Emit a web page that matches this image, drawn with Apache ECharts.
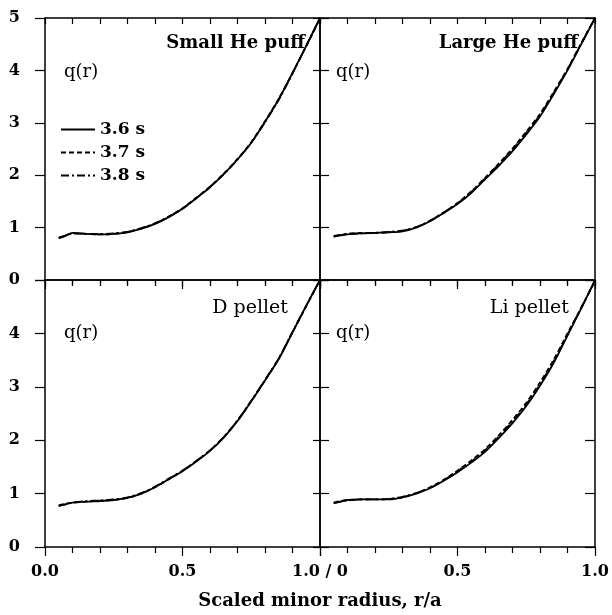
<!DOCTYPE html>
<html>
<head>
<meta charset="utf-8">
<script src="https://cdn.jsdelivr.net/npm/echarts@6/dist/echarts.min.js"></script>
<style>
html, body { margin: 0; padding: 0; background: #fff; }
#main { width: 612px; height: 615px; }
</style>
</head>
<body>
<div id="main"></div>
<script>
// scaled minor radius r/a
var r = [0.05, 0.075, 0.1, 0.15, 0.2, 0.25, 0.3, 0.35, 0.4, 0.45, 0.5, 0.55, 0.6, 0.65, 0.7, 0.75, 0.8, 0.85, 0.9, 0.95, 1.0];

// q(r), one array per panel and time
var smallHe36 = [0.80, 0.85, 0.90, 0.88, 0.87, 0.88, 0.91, 0.98, 1.07, 1.20, 1.36, 1.56, 1.77, 2.02, 2.30, 2.62, 3.02, 3.45, 3.95, 4.47, 5.00];
var smallHe37 = [0.81, 0.85, 0.89, 0.88, 0.87, 0.88, 0.92, 0.98, 1.08, 1.21, 1.37, 1.57, 1.78, 2.03, 2.31, 2.63, 3.03, 3.46, 3.95, 4.46, 4.99];
var smallHe38 = [0.80, 0.84, 0.89, 0.88, 0.88, 0.89, 0.92, 0.99, 1.08, 1.21, 1.36, 1.56, 1.78, 2.02, 2.30, 2.62, 3.01, 3.44, 3.94, 4.47, 5.00];

var largeHe36 = [0.83, 0.85, 0.87, 0.89, 0.90, 0.91, 0.93, 1.00, 1.12, 1.28, 1.45, 1.66, 1.92, 2.18, 2.46, 2.78, 3.12, 3.55, 4.00, 4.50, 5.00];
var largeHe37 = [0.84, 0.86, 0.88, 0.90, 0.90, 0.91, 0.94, 1.01, 1.13, 1.29, 1.47, 1.69, 1.95, 2.22, 2.51, 2.83, 3.17, 3.59, 4.03, 4.52, 5.00];
var largeHe38 = [0.83, 0.86, 0.88, 0.89, 0.90, 0.92, 0.94, 1.01, 1.13, 1.29, 1.46, 1.68, 1.94, 2.21, 2.49, 2.81, 3.15, 3.57, 4.02, 4.51, 5.00];

var dPellet36 = [0.77, 0.80, 0.83, 0.85, 0.86, 0.88, 0.92, 1.00, 1.12, 1.27, 1.42, 1.60, 1.80, 2.05, 2.36, 2.73, 3.12, 3.52, 4.02, 4.52, 5.00];
var dPellet37 = [0.78, 0.81, 0.83, 0.85, 0.87, 0.88, 0.92, 1.00, 1.12, 1.27, 1.43, 1.61, 1.81, 2.06, 2.37, 2.73, 3.12, 3.53, 4.02, 4.51, 5.00];
var dPellet38 = [0.77, 0.80, 0.83, 0.86, 0.87, 0.89, 0.93, 1.01, 1.13, 1.28, 1.43, 1.61, 1.81, 2.06, 2.37, 2.74, 3.13, 3.53, 4.03, 4.52, 5.00];

var liPellet36 = [0.82, 0.85, 0.88, 0.89, 0.89, 0.89, 0.93, 1.00, 1.10, 1.24, 1.40, 1.58, 1.78, 2.04, 2.32, 2.64, 3.02, 3.45, 3.96, 4.47, 5.00];
var liPellet37 = [0.83, 0.86, 0.88, 0.89, 0.89, 0.90, 0.93, 1.01, 1.12, 1.26, 1.43, 1.62, 1.83, 2.09, 2.38, 2.70, 3.08, 3.51, 4.00, 4.48, 4.98];
var liPellet38 = [0.82, 0.85, 0.87, 0.89, 0.89, 0.90, 0.94, 1.01, 1.11, 1.25, 1.42, 1.60, 1.81, 2.07, 2.35, 2.67, 3.05, 3.48, 3.98, 4.48, 4.99];

var times = ['3.6 s', '3.7 s', '3.8 s'];
var panelNames = ['Small He puff', 'Large He puff', 'D pellet', 'Li pellet'];
var panelData = [
    [smallHe36, smallHe37, smallHe38],
    [largeHe36, largeHe37, largeHe38],
    [dPellet36, dPellet37, dPellet38],
    [liPellet36, liPellet37, liPellet38]
];

var app = echarts.init(document.getElementById('main'));
var FONT = 'DejaVu Serif';
var dashes = ['solid', [5, 3], [8, 3, 2, 3]];

var grids = [
    {left: 45, top: 18, width: 275, height: 262},
    {left: 320, top: 18, width: 275, height: 262},
    {left: 45, top: 280, width: 275, height: 267},
    {left: 320, top: 280, width: 275, height: 267}
];

function pairs(ys) {
    return r.map(function (x, i) { return [x, ys[i]]; });
}

var xAxes = [], yAxes = [], series = [];

grids.forEach(function (g, i) {
    var bottomRow = i >= 2, leftCol = i % 2 === 0;

    xAxes.push({
        gridIndex: i, type: 'value', position: 'bottom', min: 0, max: 1, interval: 0.5,
        axisLine: {show: true, onZero: false, lineStyle: {color: '#000', width: 1.5}},
        axisTick: {show: true, inside: false, length: 9, lineStyle: {color: '#000', width: 1.2}},
        minorTick: {show: true, splitNumber: 5, length: 6, lineStyle: {color: '#000', width: 1.2}},
        splitLine: {show: false},
        axisLabel: {
            show: bottomRow, margin: 17, color: '#000',
            fontFamily: FONT, fontWeight: 'bold', fontSize: 16,
            formatter: function (v) {
                if (leftCol) return v === 1 ? '1.0 / 0' : v.toFixed(1);
                return v === 0 ? '' : v.toFixed(1);
            }
        }
    });
    xAxes.push({
        gridIndex: i, type: 'value', position: 'top', min: 0, max: 1, interval: 0.5,
        axisLine: {show: true, onZero: false, lineStyle: {color: '#000', width: 1.5}},
        axisTick: {show: true, inside: true, length: 6, lineStyle: {color: '#000', width: 1.2}},
        minorTick: {show: true, splitNumber: 5, length: 6, lineStyle: {color: '#000', width: 1.2}},
        splitLine: {show: false},
        axisLabel: {show: false}
    });

    yAxes.push({
        gridIndex: i, type: 'value', position: 'left', min: 0, max: 5, interval: 1,
        axisLine: {show: true, onZero: false, lineStyle: {color: '#000', width: 1.5}},
        axisTick: {show: true, inside: !leftCol, length: leftCol ? 10 : 9, lineStyle: {color: '#000', width: 1.2}},
        splitLine: {show: false},
        axisLabel: {
            show: leftCol, margin: 25, color: '#000',
            fontFamily: FONT, fontWeight: 'bold', fontSize: 16,
            formatter: function (v) { return (bottomRow && v === 5) ? '' : String(v); }
        }
    });
    yAxes.push({
        gridIndex: i, type: 'value', position: 'right', min: 0, max: 5, interval: 1,
        axisLine: {show: true, onZero: false, lineStyle: {color: '#000', width: 1.5}},
        axisTick: {show: true, inside: true, length: leftCol ? 7 : 10, lineStyle: {color: '#000', width: 1.2}},
        splitLine: {show: false},
        axisLabel: {show: false}
    });

    panelData[i].forEach(function (ys, k) {
        series.push({
            name: times[k], type: 'line',
            xAxisIndex: 2 * i, yAxisIndex: 2 * i,
            data: pairs(ys),
            symbol: 'none', showSymbol: false, smooth: 0.3,
            lineStyle: {color: '#000', width: 1.8, type: dashes[k]},
            itemStyle: {color: '#000'},
            z: 3 - k
        });
    });
});

var labelSpots = [
    {x: 305, y: 43, bold: true},
    {x: 578, y: 43, bold: true},
    {x: 288, y: 308, bold: false},
    {x: 569, y: 308, bold: false}
];
var qSpots = [[64, 72], [336, 72], [64, 333], [336, 333]];

var graphics = [];
panelNames.forEach(function (name, i) {
    graphics.push({
        type: 'text', x: labelSpots[i].x, y: labelSpots[i].y,
        style: {
            text: name, fill: '#000', align: 'right', verticalAlign: 'middle',
            font: (labelSpots[i].bold ? 'bold 18px "' : '19px "') + FONT + '"'
        }
    });
    graphics.push({
        type: 'text', x: qSpots[i][0], y: qSpots[i][1],
        style: {text: 'q(r)', fill: '#000', align: 'left', verticalAlign: 'middle', font: '18px "' + FONT + '"'}
    });
});
graphics.push({
    type: 'text', x: 320, y: 601,
    style: {text: 'Scaled minor radius, r/a', fill: '#000', align: 'center', verticalAlign: 'middle', font: 'bold 18px "' + FONT + '"'}
});

option = {
    backgroundColor: '#fff',
    animation: false,
    legend: {
        data: times,
        orient: 'vertical',
        left: 55, top: 116,
        itemWidth: 34, itemHeight: 12, itemGap: 6,
        selectedMode: false,
        itemStyle: {opacity: 0},
        textStyle: {color: '#000', fontFamily: FONT, fontWeight: 'bold', fontSize: 17}
    },
    grid: grids,
    xAxis: xAxes,
    yAxis: yAxes,
    series: series,
    graphic: graphics
};

app.setOption(option);
</script>
</body>
</html>
